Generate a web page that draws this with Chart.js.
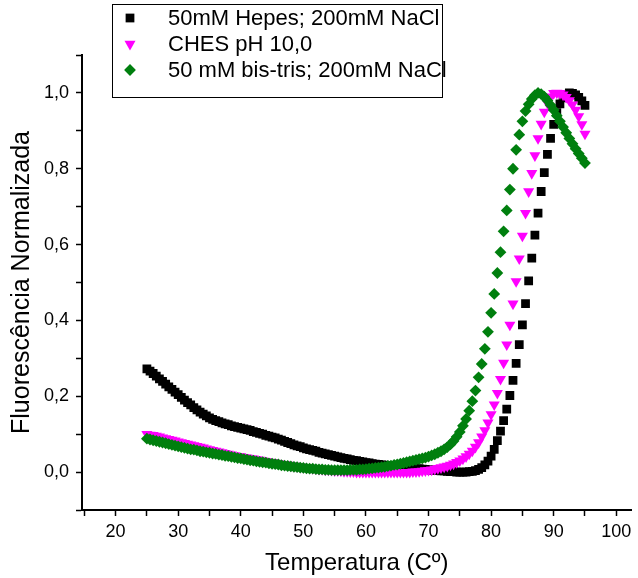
<!DOCTYPE html>
<html>
<head>
<meta charset="utf-8">
<script src="https://cdn.jsdelivr.net/npm/chart.js@4/dist/chart.umd.min.js"></script>
<style>
html,body{margin:0;padding:0;background:#fff;overflow:hidden}
#wrap{position:relative;width:638px;height:578px}
</style>
</head>
<body>
<div id="wrap"><canvas id="c" width="638" height="578"></canvas></div>
<script>
// ---- data ----
const temperatures = [
  25,25.5,26,26.5,27,27.5,28,28.5,29,29.5,
  30,30.5,31,31.5,32,32.5,33,33.5,34,34.5,
  35,35.5,36,36.5,37,37.5,38,38.5,39,39.5,
  40,40.5,41,41.5,42,42.5,43,43.5,44,44.5,
  45,45.5,46,46.5,47,47.5,48,48.5,49,49.5,
  50,50.5,51,51.5,52,52.5,53,53.5,54,54.5,
  55,55.5,56,56.5,57,57.5,58,58.5,59,59.5,
  60,60.5,61,61.5,62,62.5,63,63.5,64,64.5,
  65,65.5,66,66.5,67,67.5,68,68.5,69,69.5,
  70,70.5,71,71.5,72,72.5,73,73.5,74,74.5,
  75,75.5,76,76.5,77,77.5,78,78.5,79,79.5,
  80,80.5,81,81.5,82,82.5,83,83.5,84,84.5,
  85,85.5,86,86.5,87,87.5,88,88.5,89,89.5,
  90,90.5,91,91.5,92,92.5,93,93.5,94,94.5,
  95
];

const hepesNaCl = [
  0.272,0.266,0.260,0.253,0.246,0.239,0.232,0.225,0.218,0.211,
  0.204,0.197,0.190,0.183,0.177,0.170,0.164,0.158,0.153,0.148,
  0.143,0.139,0.136,0.133,0.130,0.127,0.125,0.122,0.120,0.118,
  0.116,0.114,0.112,0.110,0.107,0.105,0.102,0.100,0.097,0.095,
  0.092,0.090,0.087,0.084,0.081,0.078,0.075,0.072,0.069,0.067,
  0.064,0.061,0.059,0.057,0.055,0.052,0.050,0.048,0.046,0.044,
  0.042,0.040,0.038,0.036,0.035,0.033,0.031,0.030,0.028,0.027,
  0.025,0.024,0.022,0.021,0.020,0.019,0.018,0.017,0.016,0.015,
  0.014,0.013,0.012,0.012,0.011,0.010,0.009,0.009,0.008,0.007,
  0.006,0.005,0.005,0.004,0.003,0.003,0.002,0.001,0.001,0.000,
  0.000,0.000,0.000,0.001,0.002,0.004,0.007,0.012,0.019,0.029,
  0.042,0.060,0.083,0.108,0.136,0.166,0.202,0.242,0.287,0.336,
  0.388,0.444,0.504,0.564,0.625,0.683,0.740,0.790,0.838,0.880,
  0.917,0.948,0.971,0.987,0.996,1.000,0.999,0.995,0.988,0.979,
  0.967
];

const chesPH10 = [
  0.100,0.098,0.097,0.095,0.093,0.091,0.089,0.087,0.085,0.083,
  0.080,0.078,0.076,0.074,0.072,0.070,0.068,0.066,0.064,0.062,
  0.060,0.058,0.056,0.054,0.052,0.050,0.048,0.046,0.044,0.042,
  0.041,0.039,0.038,0.036,0.035,0.033,0.032,0.030,0.029,0.027,
  0.026,0.024,0.023,0.021,0.020,0.019,0.017,0.016,0.015,0.014,
  0.013,0.012,0.011,0.010,0.009,0.008,0.007,0.006,0.006,0.005,
  0.004,0.004,0.003,0.002,0.002,0.001,0.001,0.000,0.000,0.000,
  0.000,0.000,0.000,0.000,0.000,0.000,0.000,0.000,0.000,0.000,
  0.000,0.000,0.000,0.000,0.000,0.001,0.001,0.002,0.003,0.004,
  0.005,0.006,0.008,0.010,0.012,0.014,0.016,0.019,0.022,0.026,
  0.030,0.035,0.041,0.048,0.056,0.066,0.078,0.093,0.110,0.130,
  0.152,0.178,0.208,0.245,0.288,0.336,0.388,0.444,0.503,0.563,
  0.623,0.683,0.740,0.788,0.835,0.880,0.918,0.950,0.973,0.990,
  0.999,1.000,0.999,0.995,0.989,0.980,0.969,0.955,0.938,0.917,
  0.892
];

const bisTrisNaCl = [
  0.088,0.086,0.084,0.082,0.080,0.078,0.076,0.074,0.072,0.070,
  0.068,0.066,0.064,0.062,0.060,0.059,0.057,0.055,0.054,0.052,
  0.051,0.049,0.048,0.046,0.045,0.043,0.042,0.040,0.039,0.037,
  0.036,0.034,0.033,0.031,0.030,0.028,0.027,0.026,0.025,0.023,
  0.022,0.021,0.020,0.018,0.017,0.016,0.015,0.014,0.013,0.012,
  0.011,0.010,0.009,0.009,0.008,0.007,0.007,0.006,0.006,0.005,
  0.005,0.005,0.005,0.005,0.005,0.006,0.006,0.006,0.007,0.007,
  0.008,0.009,0.010,0.011,0.012,0.013,0.014,0.016,0.017,0.019,
  0.020,0.022,0.024,0.026,0.028,0.030,0.032,0.034,0.036,0.038,
  0.041,0.044,0.047,0.051,0.055,0.060,0.066,0.073,0.082,0.093,
  0.106,0.122,0.140,0.162,0.187,0.215,0.250,0.285,0.325,0.370,
  0.420,0.470,0.525,0.580,0.635,0.690,0.745,0.800,0.850,0.890,
  0.925,0.952,0.970,0.984,0.994,1.000,0.997,0.990,0.980,0.968,
  0.955,0.940,0.925,0.910,0.895,0.880,0.866,0.853,0.840,0.828,
  0.815
];

const seriesLabels = ['50mM Hepes; 200mM NaCl', 'CHES pH 10,0', '50 mM bis-tris; 200mM NaCl'];
const xTickLabels = [20, 30, 40, 50, 60, 70, 80, 90, 100];
const yTickValues = [0, 0.2, 0.4, 0.6, 0.8, 1.0];
const yTickLabels = ['0,0', '0,2', '0,4', '0,6', '0,8', '1,0'];
const xTitle = 'Temperatura (Cº)';
const yTitle = 'Fluorescência Normalizada';

// ---- chart ----
const FONT = '"Liberation Sans", Arial, Helvetica, sans-serif';
Chart.defaults.font.family = FONT;
Chart.defaults.color = '#000';

function pts(vals) { return temperatures.map((t, i) => ({ x: t, y: vals[i] })); }

function drawMarker(ctx, style, x, y, r, rot) {
  ctx.beginPath();
  if (style === 'rect') {
    const s = Math.SQRT1_2 * r;
    ctx.rect(x - s, y - s, 2 * s, 2 * s);
  } else if (style === 'rectRot') {
    ctx.moveTo(x - r, y); ctx.lineTo(x, y - r); ctx.lineTo(x + r, y); ctx.lineTo(x, y + r);
    ctx.closePath();
  } else if (style === 'triangle') {
    let a = (rot || 0) * Math.PI / 180;
    ctx.moveTo(x + Math.sin(a) * r, y - Math.cos(a) * r);
    a += 2 * Math.PI / 3;
    ctx.lineTo(x + Math.sin(a) * r, y - Math.cos(a) * r);
    a += 2 * Math.PI / 3;
    ctx.lineTo(x + Math.sin(a) * r, y - Math.cos(a) * r);
    ctx.closePath();
  }
  ctx.fill();
}

const boxLegend = {
  id: 'boxLegend',
  afterDraw(chart) {
    const ctx = chart.ctx;
    const L = 112.5, T = 4.5, W = 330, H = 93;
    ctx.save();
    ctx.fillStyle = '#fff';
    ctx.fillRect(L, T, W, H);
    ctx.strokeStyle = '#000';
    ctx.lineWidth = 1;
    ctx.strokeRect(L, T, W, H);
    ctx.font = '22px ' + FONT;
    ctx.textBaseline = 'middle';
    ctx.textAlign = 'left';
    chart.data.datasets.forEach((ds, i) => {
      const y = 18 + i * 26;
      ctx.fillStyle = ds.pointBackgroundColor;
      drawMarker(ctx, ds.pointStyle, 130, y, ds.pointRadius, ds.pointRotation);
      ctx.fillStyle = '#000';
      ctx.fillText(ds.label, 168, y + 1);
    });
    ctx.restore();
  }
};

new Chart(document.getElementById('c'), {
  type: 'scatter',
  data: {
    datasets: [
      { label: seriesLabels[0], data: pts(hepesNaCl), pointStyle: 'rect', pointRadius: 6.2,
        pointBackgroundColor: '#000000', pointBorderColor: '#000000', pointBorderWidth: 0, order: 3 },
      { label: seriesLabels[1], data: pts(chesPH10), pointStyle: 'triangle', pointRotation: 180, pointRadius: 6.4,
        pointBackgroundColor: '#FF00FF', pointBorderColor: '#FF00FF', pointBorderWidth: 0, order: 2 },
      { label: seriesLabels[2], data: pts(bisTrisNaCl), pointStyle: 'rectRot', pointRadius: 5.9,
        pointBackgroundColor: '#007F0E', pointBorderColor: '#007F0E', pointBorderWidth: 0, order: 1 }
    ]
  },
  options: {
    responsive: false,
    animation: false,
    events: [],
    layout: { padding: { top: 55, left: 0, right: 0, bottom: 0 } },
    plugins: { legend: { display: false }, tooltip: { enabled: false } },
    scales: {
      x: {
        type: 'linear', min: 14.63, max: 102.45,
        border: { display: true, color: '#000', width: 2 },
        grid: { display: true, drawOnChartArea: false, drawTicks: true, tickLength: 6, tickColor: '#000', tickWidth: 1.5 },
        ticks: {
          stepSize: 5, includeBounds: false, autoSkip: false, maxRotation: 0, color: '#000', padding: 5,
          font: { size: 18 },
          callback: (v) => (xTickLabels.includes(v) ? String(v) : '')
        },
        title: { display: true, text: xTitle, color: '#000', font: { size: 24 }, padding: { top: 0, bottom: 0 } },
        afterFit: (s) => { s.height = 68; s.paddingLeft = 0; s.paddingRight = 0; }
      },
      y: {
        type: 'linear', min: -0.1, max: 1.1,
        border: { display: true, color: '#000', width: 2 },
        grid: { display: true, drawOnChartArea: false, drawTicks: true, tickLength: 6, tickColor: '#000', tickWidth: 1.5 },
        ticks: {
          stepSize: 0.1, includeBounds: false, autoSkip: false, color: '#000', padding: 7,
          font: { size: 18 },
          callback: (v) => {
            const k = yTickValues.findIndex((t) => Math.abs(t - v) < 1e-6);
            return k >= 0 ? yTickLabels[k] : '';
          }
        },
        title: { display: true, text: yTitle, color: '#000', font: { size: 25 }, padding: { top: 7, bottom: 0 } },
        afterFit: (s) => { s.width = 82; }
      }
    }
  },
  plugins: [boxLegend]
});
</script>
</body>
</html>
